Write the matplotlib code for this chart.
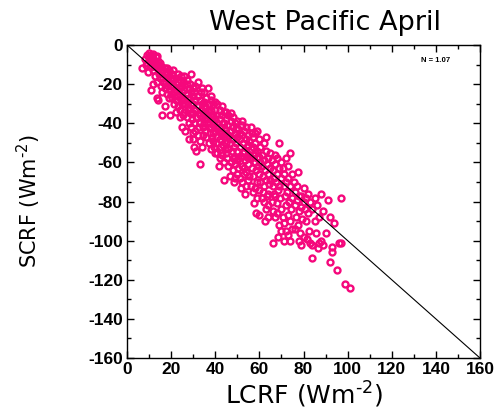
import matplotlib
matplotlib.use("Agg")
import matplotlib.pyplot as plt
from matplotlib.ticker import MultipleLocator

plt.rcParams['font.family'] = ['Liberation Sans', 'DejaVu Sans']

# (LCRF, SCRF) values, grouped by LCRF bands
lcrf = [
    7, 8, 9, 9, 9.5, 8.5, 10, 9.8,
    10.5, 11, 11.5, 12, 12, 12.5, 13, 13.5, 14, 11, 12, 13, 14, 14.5, 11, 13.6, 14, 12.5, 13.5, 14.5, 10.5, 12,
    15, 15.5, 16, 16, 16.5, 17, 17, 17.5, 18, 18, 18.5, 19, 19, 19.5, 15, 15.5, 16, 17, 18, 19, 17, 16, 19.5, 18, 20, 20, 16.5, 19,
    20.5, 21, 21, 21.5, 22, 22, 22.5, 23, 23, 23.5, 24, 24, 24.5, 25, 25, 20.5, 21.5, 22, 23, 24, 25, 24, 22, 21, 23, 24.5, 25, 20, 22.5, 24,
    25.5, 26, 26, 26.5, 27, 27, 27.5, 28, 28, 28.5, 29, 29, 29, 29.5, 30, 30, 26, 27, 28, 29, 26.5, 28, 30, 27, 28.5, 25.5, 29.5, 26, 27.5, 30, 28.5, 25.5,
    30.5, 31, 31, 31.5, 32, 32, 32, 32.5, 33, 33, 33.5, 34, 34, 34, 34.5, 35, 35, 30.5, 31, 32, 33, 34, 30, 31.5, 33, 30.5, 35, 33.5, 31, 32.5, 34.5, 35, 30, 33,
    35.5, 36, 36, 36.5, 37, 37, 37.5, 38, 38, 38, 38.5, 39, 39, 39, 39.5, 40, 40, 35.5, 36, 37, 38, 39, 40, 36.5, 38, 40, 37.5, 39.5, 35.5, 36.5, 38.5, 39, 37, 40,
    40.5, 41, 41, 41.5, 42, 42, 42, 42.5, 43, 43, 43.5, 44, 44, 44, 44.5, 45, 45, 40.5, 41, 42, 43, 44, 45, 41.5, 44, 43, 45, 42.5, 41, 43.5, 44.5, 40.5, 45, 42,
    45.5, 46, 46, 46.5, 47, 47, 47.5, 48, 48, 48, 48.5, 49, 49, 49, 49.5, 50, 50, 50, 45.5, 46, 47, 48, 49, 50, 46.5, 48.5, 47, 49.5, 46, 48, 50, 47.5, 45.5, 49,
    50.5, 51, 51, 51.5, 52, 52, 52, 52.5, 53, 53, 53.5, 54, 54, 54, 54.5, 55, 55, 55, 50.5, 51, 52, 53, 54, 55, 51.5, 53.5, 56, 52, 50.5, 53, 54.5, 51, 55, 52.5,
    55.5, 56, 56, 56.5, 57, 57, 57, 57.5, 58, 58, 58, 58.5, 59, 59, 59, 59.5, 60, 60, 55.5, 56, 57, 58, 59, 60, 58.5, 57.5, 60, 56.5, 59, 55.5, 58, 60,
    60.5, 61, 61, 61.5, 62, 62, 62, 62.5, 63, 63, 63.5, 64, 64, 64, 64.5, 65, 65, 60.5, 61, 62, 63, 64, 62.5, 64, 66, 61.5, 63, 65, 60.5, 63.5,
    65.5, 66, 66, 66.5, 67, 67, 67, 67.5, 68, 68, 68, 68.5, 69, 69, 69, 69.5, 70, 70, 65.5, 66, 67, 68, 69, 70, 71, 66.5, 70, 68.5,
    70.5, 71, 71, 71.5, 72, 72, 72, 72.5, 73, 73, 73, 73.5, 74, 74, 74, 74.5, 75, 75, 71, 72, 73, 74, 75, 70.5,
    75.5, 76, 76, 76.5, 77, 77, 77.5, 78, 78, 78.5, 79, 79, 79, 79.5, 80, 80, 80, 76, 77.5, 78,
    80.5, 81, 81, 82, 82, 82.5, 83, 83, 84, 84, 84, 85, 81.5, 85,
    85.5, 86, 87, 87, 88, 88, 89, 89, 90, 86.5,
    91, 92, 92, 93, 93, 94, 95, 96, 97, 97, 99, 101,
]
scrf = [
    -12, -7, -5, -9, -14, -10, -4, -7.5,
    -6, -5, -8, -4.5, -7, -9, -6, -5.5, -8, -11, -13, -11, -12, -10, -23, -27, -28, -16, -19, -15, -9, -20,
    -9, -11, -14, -11, -17, -12, -15, -19, -14, -17, -21, -16, -19, -23, -17, -21, -24, -22, -25, -27, -31, -36, -36, -12, -17, -21, -19, -13,
    -15, -18, -21, -24, -17, -20, -23, -19, -26, -22, -18, -25, -28, -21, -24, -27, -30, -28, -31, -33, -42, -37, -34, -13, -15, -16, -30, -25, -26, -22,
    -19, -23, -27, -30, -20, -25, -29, -22, -27, -32, -15, -24, -30, -35, -26, -30, -34, -37, -40, -42, -44, -48, -45, -18, -20, -36, -38, -16, -33, -22, -35, -28,
    -24, -28, -33, -37, -19, -26, -31, -35, -28, -40, -33, -22, -30, -37, -42, -29, -34, -40, -44, -46, -49, -52, -48, -54, -61, -52, -40, -24, -21, -42, -46, -24, -35, -36,
    -31, -27, -36, -40, -30, -34, -38, -26, -33, -42, -37, -30, -36, -45, -40, -33, -38, -44, -47, -50, -53, -49, -55, -22, -28, -29, -45, -52, -38, -33, -47, -41, -42, -44,
    -36, -30, -40, -44, -33, -38, -48, -42, -36, -45, -51, -34, -40, -47, -43, -38, -50, -50, -55, -58, -56, -60, -55, -62, -69, -31, -34, -52, -47, -40, -53, -42, -45, -44,
    -41, -36, -46, -50, -39, -44, -54, -37, -42, -48, -52, -40, -45, -57, -50, -39, -47, -54, -58, -62, -60, -64, -61, -66, -67, -70, -35, -43, -53, -58, -59, -48, -47, -68,
    -43, -48, -52, -57, -41, -46, -62, -50, -44, -54, -59, -42, -48, -65, -52, -46, -56, -61, -63, -68, -70, -66, -72, -69, -73, -76, -42, -39, -58, -63, -57, -45, -51, -55,
    -49, -53, -58, -63, -47, -52, -67, -56, -45, -50, -60, -64, -54, -58, -70, -62, -48, -57, -67, -72, -75, -73, -78, -66, -86, -81, -74, -45, -44, -58, -55, -87,
    -52, -56, -62, -67, -50, -59, -72, -64, -54, -69, -61, -58, -66, -76, -71, -55, -63, -70, -78, -80, -84, -82, -90, -88, -101, -75, -47, -69, -60, -77,
    -59, -64, -72, -68, -56, -61, -77, -70, -58, -66, -81, -74, -50, -63, -72, -78, -60, -68, -80, -85, -88, -86, -92, -84, -100, -76, -95, -98,
    -63, -72, -66, -77, -58, -70, -82, -75, -62, -68, -87, -80, -55, -72, -90, -84, -66, -78, -91, -95, -97, -100, -94, -88,
    -70, -75, -82, -88, -72, -79, -92, -77, -85, -96, -77, -83, -102, -89, -73, -80, -98, -94, -65, -100,
    -84, -78, -90, -76, -86, -95, -80, -101, -84, -102, -109, -90, -99, -78,
    -96, -82, -101, -88, -76, -100, -102, -85, -96, -104,
    -79, -88, -111, -103, -106, -91, -115, -101, -78, -101, -122, -124,
]

one_to_one = [0, 160]
x_ticks = [0, 20, 40, 60, 80, 100, 120, 140, 160]
y_ticks = [0, -20, -40, -60, -80, -100, -120, -140, -160]

pink = '#F5087C'

fig = plt.figure(figsize=(5.0, 4.15), dpi=100)
ax = fig.add_axes([0.254, 0.1373, 0.706, 0.7543])

ax.plot(lcrf, scrf, linestyle='none', marker='o', markersize=4.3,
        markerfacecolor='none', markeredgecolor=pink, markeredgewidth=1.7, zorder=2)
ax.plot(one_to_one, [-v for v in one_to_one], color='black', linewidth=0.8, zorder=3)

ax.set_xlim(0, 160)
ax.set_ylim(-160, 0)
ax.set_xticks(x_ticks)
ax.set_yticks(y_ticks)
ax.set_xticklabels([str(v) for v in x_ticks], fontsize=12.5, fontweight='bold')
ax.set_yticklabels([str(v) for v in y_ticks], fontsize=12.5, fontweight='bold')
ax.xaxis.set_minor_locator(MultipleLocator(10))
ax.yaxis.set_minor_locator(MultipleLocator(10))
ax.tick_params(which='both', direction='in', top=True, right=True, width=1)
ax.tick_params(which='major', length=5, pad=3)
ax.tick_params(which='minor', length=3)
for s in ax.spines.values():
    s.set_linewidth(1)

ax.set_xlabel('LCRF (Wm$^{\\mathregular{\\text{-}2}}$)', family='DejaVu Sans',
              fontsize=18, labelpad=2)
ax.set_ylabel('SCRF (Wm$^{\\mathregular{\\text{-}2}}$)', family='DejaVu Sans',
              fontsize=15)
ax.yaxis.set_label_coords(-0.238, 0.5)

fig.text(0.65, 0.945, 'West Pacific April', family='DejaVu Sans', fontsize=19.5,
         ha='center', va='center')
ax.text(0.875, 0.952, 'N = 1.07', transform=ax.transAxes, fontsize=5.5,
        fontweight='bold', ha='center', va='center')

fig.savefig('out.png', dpi=100)
